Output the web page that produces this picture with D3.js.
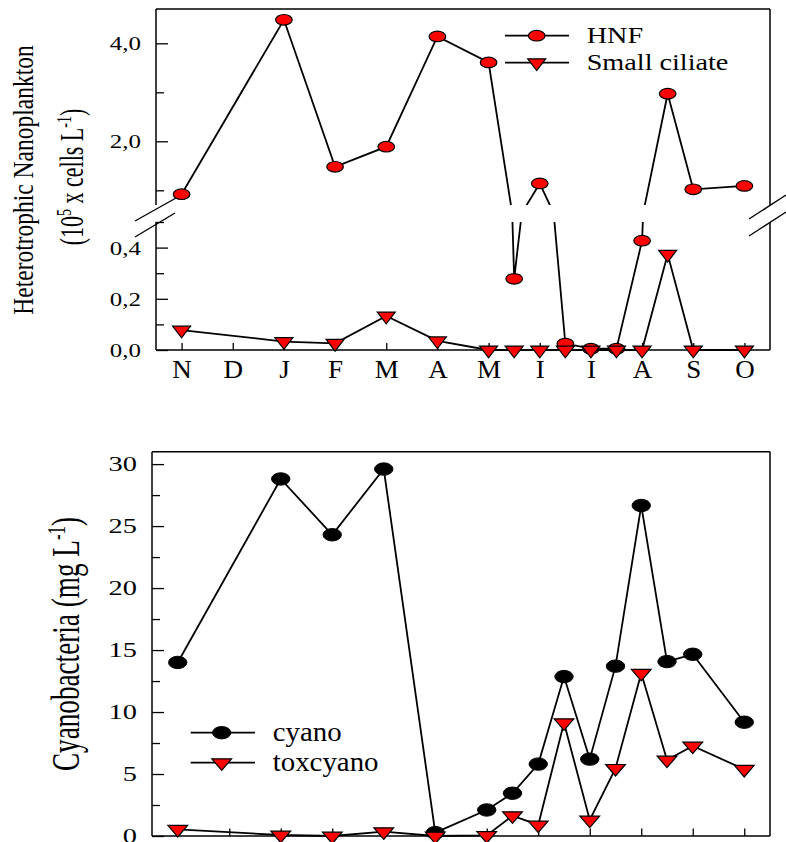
<!DOCTYPE html>
<html>
<head>
<meta charset="utf-8">
<script src="https://cdn.jsdelivr.net/npm/d3@7"></script>
<style>
  body { margin: 0; background: #fff; }
  svg text { font-family: "Liberation Serif", "Times New Roman", serif; fill: #000; }
</style>
</head>
<body>
<svg id="chart" width="786" height="842"></svg>
<script>
// month tick labels (Nov .. Oct)
const months = ['N', 'D', 'J', 'F', 'M', 'A', 'M', 'I', 'I', 'A', 'S', 'O'];
// sampling positions, in month units (half = mid-month sample)
const sampleX = [0, 2, 3, 4, 5, 6, 6.5, 7, 7.5, 8, 8.5, 9, 9.5, 10, 11];

// top panel, 10^5 cells L-1
const hnf = [0.92, 4.48, 1.48, 1.89, 4.14, 3.61, 0.278, 1.14, 0.025, 0.005, 0.005, 0.427, 2.97, 1.02, 1.09];
const smallCiliate = [0.078, 0.033, 0.026, 0.133, 0.036, 0, 0, 0, 0, 0, 0, 0, 0.374, 0, 0];
const topLegend = ['HNF', 'Small ciliate'];
const upperTicks = [2, 4], upperMinor = [1, 3];
const lowerTicks = [0, 0.2, 0.4], lowerMinor = [0.1, 0.3, 0.5];

// bottom panel, mg L-1
const cyano = [14.0, 28.8, 24.3, 29.6, 0.27, 2.1, 3.45, 5.8, 12.86, 6.2, 13.7, 26.66, 14.07, 14.66, 9.18];
const toxcyano = [0.54, 0.08, 0.0, 0.35, 0.0, 0.05, 1.64, 0.89, 9.14, 1.29, 5.46, 13.13, 6.13, 7.26, 5.38];
const bottomLegend = ['cyano', 'toxcyano'];
const cyanoTicks = [0, 5, 10, 15, 20, 25, 30];
const cyanoMinor = [2.5, 7.5, 12.5, 17.5, 22.5, 27.5];

const svg = d3.select('#chart');
const RED = '#ff0000';
const fmtComma = d3.formatLocale({ decimal: ',', thousands: '.', grouping: [3], currency: ['', ''] }).format('.1f');

const toPts = (vals) => sampleX.map((x, i) => ({ x: x, v: vals[i] }));

function triPath(w, h) {
  return `M${-w / 2},${-h / 3}L${w / 2},${-h / 3}L0,${2 * h / 3}Z`;
}

function addLeftAxis(x0, scale, major, minor, fmt, o) {
  const g = svg.append('g')
    .attr('transform', `translate(${x0},0)`)
    .call(d3.axisLeft(scale).tickValues(major).tickSize(-12).tickPadding(o.pad).tickFormat(fmt));
  g.select('.domain').remove();
  g.selectAll('line').attr('stroke', '#000').attr('stroke-width', 1.3);
  g.selectAll('text')
    .attr('font-size', o.fs)
    .attr('x', -o.pad / o.sx)
    .attr('dy', '0.34em')
    .attr('transform', `scale(${o.sx},1)`);

  const gm = svg.append('g')
    .attr('transform', `translate(${x0},0)`)
    .call(d3.axisLeft(scale).tickValues(minor).tickSize(-8).tickFormat(''));
  gm.select('.domain').remove();
  gm.selectAll('line').attr('stroke', '#000').attr('stroke-width', 1.3);
}

function frameLine(x1, y1, x2, y2, w) {
  svg.append('line')
    .attr('x1', x1).attr('y1', y1).attr('x2', x2).attr('y2', y2)
    .attr('stroke', '#000').attr('stroke-width', w || 1.5);
}

// ---------------- top panel (broken y axis) ----------------
const p1 = { left: 156, right: 770, top: 9, bottom: 350, breakHi: 205, breakLo: 222 };
const x1 = d3.scaleLinear().domain([-0.5, 11.5]).range([p1.left, p1.right]);
const yUp = d3.scaleLinear().domain([0.7, 4.7]).range([p1.breakHi, p1.top]);
const yLo = d3.scaleLinear().domain([0, 0.5]).range([p1.bottom, p1.breakLo]);

const defs = svg.append('defs');
defs.append('clipPath').attr('id', 'clipUp').append('rect')
  .attr('x', p1.left - 10).attr('y', 0).attr('width', p1.right - p1.left + 20).attr('height', p1.breakHi);
defs.append('clipPath').attr('id', 'clipLo').append('rect')
  .attr('x', p1.left - 10).attr('y', p1.breakLo).attr('width', p1.right - p1.left + 20).attr('height', 20 + p1.bottom - p1.breakLo);

// frame
frameLine(p1.left, p1.top, p1.right, p1.top);
frameLine(p1.left, p1.bottom, p1.right, p1.bottom);
frameLine(p1.left, p1.top, p1.left, p1.breakHi);
frameLine(p1.left, p1.breakLo, p1.left, p1.bottom);
frameLine(p1.right, p1.top, p1.right, p1.breakHi);
frameLine(p1.right, p1.breakLo, p1.right, p1.bottom);

// break marks
frameLine(135, 221, 176, 198, 1.4);
frameLine(135, 237, 175, 213, 1.4);
frameLine(749, 219, 786, 195, 1.4);
frameLine(749, 236, 786, 212, 1.4);

addLeftAxis(p1.left, yUp, upperTicks, upperMinor, fmtComma, { pad: 15, fs: 19.5, sx: 1.28 });
addLeftAxis(p1.left, yLo, lowerTicks, lowerMinor, fmtComma, { pad: 15, fs: 19.5, sx: 1.28 });

const gx1 = svg.append('g')
  .attr('transform', `translate(0,${p1.bottom})`)
  .call(d3.axisBottom(x1).tickValues(d3.range(months.length)).tickSize(-7).tickPadding(10).tickFormat(i => months[i]));
gx1.select('.domain').remove();
gx1.selectAll('line').attr('stroke', '#000').attr('stroke-width', 1.3);
gx1.selectAll('text').attr('font-size', 25).attr('transform', 'scale(1.08,1)')
  .attr('x', 0);

// lines drawn once per segment and clipped at the break
function brokenLine(vals) {
  [[yUp, 'clipUp'], [yLo, 'clipLo']].forEach(([ys, clip]) => {
    svg.append('path')
      .datum(toPts(vals))
      .attr('clip-path', `url(#${clip})`)
      .attr('fill', 'none')
      .attr('stroke', '#000')
      .attr('stroke-width', 1.8)
      .attr('d', d3.line().x(d => x1(d.x)).y(d => ys(d.v)));
  });
}
const ySeg = v => (v > 0.5 ? yUp(v) : yLo(v));

brokenLine(hnf);
svg.selectAll('.hnf').data(toPts(hnf)).enter()
  .append('ellipse')
  .attr('class', 'hnf')
  .attr('cx', d => x1(d.x)).attr('cy', d => ySeg(d.v))
  .attr('rx', 8.3).attr('ry', 5.3)
  .attr('fill', RED).attr('stroke', '#000').attr('stroke-width', 1.2);

brokenLine(smallCiliate);
svg.selectAll('.cil').data(toPts(smallCiliate)).enter()
  .append('path')
  .attr('class', 'cil')
  .attr('transform', d => `translate(${x1(d.x)},${ySeg(d.v)})`)
  .attr('d', triPath(18, 11.7))
  .attr('fill', RED).attr('stroke', '#000').attr('stroke-width', 1.2);

// top legend
[35.7, 62.7].forEach((ly, i) => {
  frameLine(505, ly, 569, ly, 1.8);
  if (i === 0) {
    svg.append('ellipse').attr('cx', 536.7).attr('cy', ly).attr('rx', 8.3).attr('ry', 5.3)
      .attr('fill', RED).attr('stroke', '#000').attr('stroke-width', 1.2);
  } else {
    svg.append('path').attr('transform', `translate(536.7,${ly})`).attr('d', triPath(18, 11.7))
      .attr('fill', RED).attr('stroke', '#000').attr('stroke-width', 1.2);
  }
  svg.append('text')
    .attr('transform', `translate(586.7,${ly + 7.5}) scale(1.2,1)`)
    .attr('font-size', 23.5)
    .text(topLegend[i]);
});

// top y title
svg.append('text')
  .attr('transform', 'translate(33,180) scale(1.22,1) rotate(-90)')
  .attr('text-anchor', 'middle')
  .attr('font-size', 23.5)
  .text('Heterotrophic Nanoplankton');
const t2 = svg.append('text')
  .attr('transform', 'translate(83,177) scale(1.5,1) rotate(-90)')
  .attr('text-anchor', 'middle')
  .attr('font-size', 22);
t2.append('tspan').text('(10');
t2.append('tspan').attr('font-size', 14).attr('dy', -8).text('5');
t2.append('tspan').attr('dy', 8).text(' x cells L');
t2.append('tspan').attr('font-size', 14).attr('dy', -8).text('-1');
t2.append('tspan').attr('dy', 8).text(')');

// ---------------- bottom panel ----------------
const p2 = { left: 152, right: 770, top: 451.7, bottom: 836 };
const x2 = d3.scaleLinear().domain([-0.5, 11.5]).range([p2.left, p2.right]);
const y2 = d3.scaleLinear().domain([0, 31]).range([p2.bottom, p2.top]);

frameLine(p2.left, p2.top, p2.right, p2.top);
frameLine(p2.left, p2.bottom, p2.right, p2.bottom);
frameLine(p2.left, p2.top, p2.left, p2.bottom);
frameLine(p2.right, p2.top, p2.right, p2.bottom);

addLeftAxis(p2.left, y2, cyanoTicks, cyanoMinor, d3.format('d'), { pad: 15, fs: 20, sx: 1.42 });

const gx2 = svg.append('g')
  .attr('transform', `translate(0,${p2.bottom})`)
  .call(d3.axisBottom(x2).tickValues(d3.range(months.length)).tickSize(-7.5).tickFormat(''));
gx2.select('.domain').remove();
gx2.selectAll('line').attr('stroke', '#000').attr('stroke-width', 1.3);

const line2 = d3.line().x(d => x2(d.x)).y(d => y2(d.v));

svg.append('path').datum(toPts(cyano))
  .attr('fill', 'none').attr('stroke', '#000').attr('stroke-width', 1.8).attr('d', line2);
svg.selectAll('.cy').data(toPts(cyano)).enter()
  .append('ellipse')
  .attr('class', 'cy')
  .attr('cx', d => x2(d.x)).attr('cy', d => y2(d.v))
  .attr('rx', 9.2).attr('ry', 6.2)
  .attr('fill', '#000').attr('stroke', '#000').attr('stroke-width', 1);

svg.append('path').datum(toPts(toxcyano))
  .attr('fill', 'none').attr('stroke', '#000').attr('stroke-width', 1.8).attr('d', line2);
svg.selectAll('.tx').data(toPts(toxcyano)).enter()
  .append('path')
  .attr('class', 'tx')
  .attr('transform', d => `translate(${x2(d.x)},${y2(d.v)})`)
  .attr('d', triPath(19.7, 11.5))
  .attr('fill', RED).attr('stroke', '#000').attr('stroke-width', 1.2);

// bottom legend
[732.7, 762.7].forEach((ly, i) => {
  frameLine(190.7, ly, 255, ly, 1.8);
  if (i === 0) {
    svg.append('ellipse').attr('cx', 221.7).attr('cy', ly).attr('rx', 9.2).attr('ry', 6.2)
      .attr('fill', '#000').attr('stroke', '#000');
  } else {
    svg.append('path').attr('transform', `translate(221.7,${ly})`).attr('d', triPath(19.7, 11.5))
      .attr('fill', RED).attr('stroke', '#000').attr('stroke-width', 1.2);
  }
  svg.append('text')
    .attr('transform', `translate(272.7,${ly + 8}) scale(1.05,1)`)
    .attr('font-size', 27.5)
    .text(bottomLegend[i]);
});

// bottom y title
const t3 = svg.append('text')
  .attr('transform', 'translate(79,644) scale(1.45,1) rotate(-90)')
  .attr('text-anchor', 'middle')
  .attr('font-size', 27.2);
t3.append('tspan').text('Cyanobacteria (mg L');
t3.append('tspan').attr('font-size', 17).attr('dy', -10).text('-1');
t3.append('tspan').attr('dy', 10).text(')');
</script>
</body>
</html>
